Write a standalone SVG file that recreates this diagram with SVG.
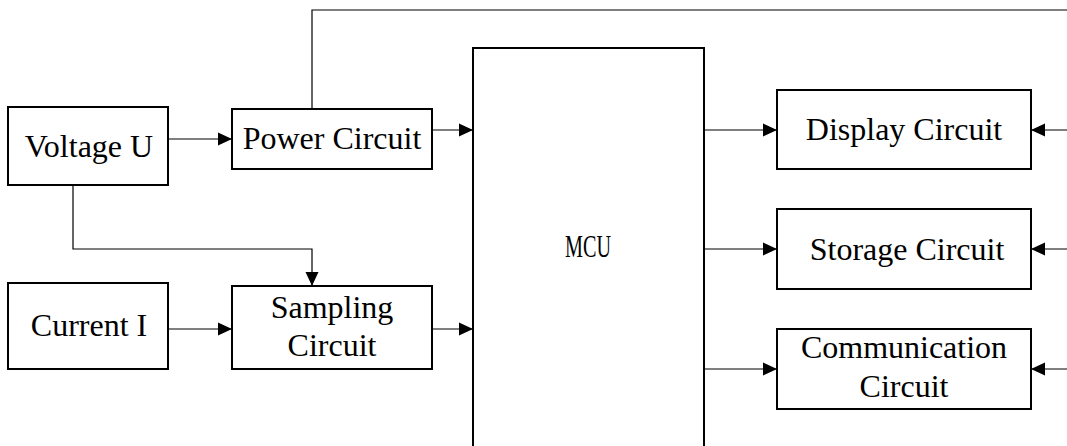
<svg xmlns="http://www.w3.org/2000/svg" width="1067" height="446" viewBox="0 0 1067 446">
<style>
.box{fill:#fff;stroke:#000;stroke-width:2}
.t{font-family:"Liberation Serif","Times New Roman",serif;font-size:32px;fill:#000;text-anchor:middle}
.m{font-family:"Liberation Serif","Times New Roman",serif;font-size:32px;fill:#000;text-anchor:middle}
.c{fill:none;stroke:#000;stroke-width:1.2}
</style>
<defs>
<marker id="a" viewBox="0 0 14 14" refX="14" refY="7" markerWidth="14" markerHeight="14" markerUnits="userSpaceOnUse" orient="auto">
<path d="M0,0.5 L14,7 L0,13.5 Z" fill="#000"/>
</marker>
</defs>
<rect width="1067" height="446" fill="#fff"/>
<g id="connectors">
<path class="c" d="M168,139 H232" marker-end="url(#a)"/>
<path class="c" d="M432,130 H473" marker-end="url(#a)"/>
<path class="c" d="M312,109 V10 H1067"/>
<path class="c" d="M73,185 V249 H312 V286" marker-end="url(#a)"/>
<path class="c" d="M168,329 H232" marker-end="url(#a)"/>
<path class="c" d="M432,329 H473" marker-end="url(#a)"/>
<path class="c" d="M704,130 H777" marker-end="url(#a)"/>
<path class="c" d="M704,249 H777" marker-end="url(#a)"/>
<path class="c" d="M704,369 H777" marker-end="url(#a)"/>
<path class="c" d="M1067,130 H1031" marker-end="url(#a)"/>
<path class="c" d="M1067,249 H1031" marker-end="url(#a)"/>
<path class="c" d="M1067,369 H1031" marker-end="url(#a)"/>
</g>
<g id="voltage">
<rect class="box" x="8" y="107" width="160" height="78"/>
<text class="t" x="89" y="157">Voltage U</text>
</g>
<g id="power">
<rect class="box" x="232" y="109" width="200" height="60"/>
<text class="t" x="332" y="149">Power Circuit</text>
</g>
<g id="current">
<rect class="box" x="8" y="283" width="160" height="86"/>
<text class="t" x="89" y="336">Current I</text>
</g>
<g id="sampling">
<rect class="box" x="232" y="286" width="200" height="83"/>
<text class="t" x="332" y="318">Sampling</text>
<text class="t" x="332" y="356">Circuit</text>
</g>
<g id="mcu">
<rect class="box" x="473" y="48" width="231" height="410"/>
<text class="m" x="588" y="257" textLength="46" lengthAdjust="spacingAndGlyphs">MCU</text>
</g>
<g id="display">
<rect class="box" x="777" y="90" width="254" height="79"/>
<text class="t" x="904" y="140">Display Circuit</text>
</g>
<g id="storage">
<rect class="box" x="777" y="209" width="254" height="80"/>
<text class="t" x="907" y="260">Storage Circuit</text>
</g>
<g id="communication">
<rect class="box" x="777" y="329" width="254" height="80"/>
<text class="t" x="904" y="358">Communication</text>
<text class="t" x="904" y="397">Circuit</text>
</g>
</svg>
